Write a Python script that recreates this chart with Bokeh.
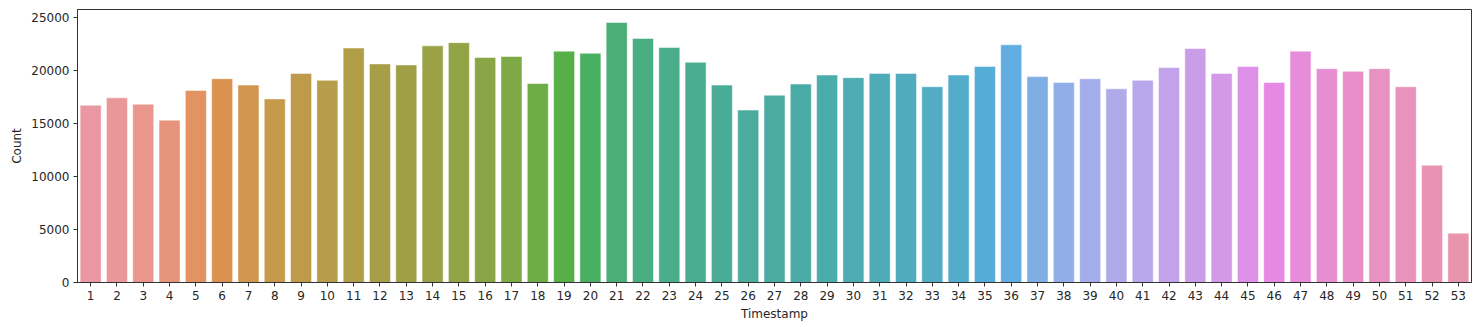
import math
import colorsys
from bokeh.plotting import figure
from bokeh.models import ColumnDataSource, Range1d, FixedTicker
from bokeh.embed import file_html
from bokeh.resources import INLINE

# ---- data ----
timestamps = list(range(1, 54))
counts = [16700, 17400, 16800, 15300, 18100, 19200, 18600, 17300, 19700, 19050,
          22100, 20600, 20500, 22300, 22600, 21200, 21300, 18750, 21800, 21600,
          24500, 23000, 22150, 20750, 18600, 16250, 17650, 18700, 19550, 19300,
          19700, 19700, 18450, 19550, 20350, 22400, 19400, 18850, 19200, 18250,
          19050, 20250, 22050, 19700, 20350, 18850, 21800, 20150, 19900, 20150,
          18450, 11050, 4650]
y_ticks = [0, 5000, 10000, 15000, 20000, 25000]

# ---- husl palette (seaborn style) ----
M = [[3.2406, -1.5372, -0.4986], [-0.9689, 1.8758, 0.0415], [0.0557, -0.2040, 1.0570]]
REF_U, REF_V, LAB_E, LAB_K = 0.19784, 0.46834, 0.008856, 903.3


def max_chroma(L, H):
    hrad = math.radians(H)
    sinH, cosH = math.sin(hrad), math.cos(hrad)
    sub1 = (L + 16) ** 3 / 1560896.0
    sub2 = sub1 if sub1 > LAB_E else L / LAB_K
    result = float("inf")
    for m1, m2, m3 in M:
        top = (0.99915 * m1 + 1.05122 * m2 + 1.14460 * m3) * sub2
        rb = 0.86330 * m3 - 0.17266 * m2
        lb = 0.12949 * m3 - 0.38848 * m1
        bottom = (rb * sinH + lb * cosH) * sub2
        for t in (0.0, 1.0):
            C = L * (top - 1.05122 * t) / (bottom + 0.17266 * sinH * t)
            if 0 < C < result:
                result = C
    return result


def f_inv(t):
    return t ** 3 if t ** 3 > LAB_E else (116 * t - 16) / LAB_K


def from_linear(c):
    return 12.92 * c if c <= 0.0031308 else 1.055 * c ** (1 / 2.4) - 0.055


def husl_to_rgb(H, S, L):
    C = max_chroma(L, H) / 100.0 * S
    hr = math.radians(H)
    U, V = math.cos(hr) * C, math.sin(hr) * C
    varY = f_inv((L + 16) / 116.0)
    varU = U / (13 * L) + REF_U
    varV = V / (13 * L) + REF_V
    Y = varY
    X = -(9 * Y * varU) / ((varU - 4) * varV - varU * varV)
    Z = (9 * Y - 15 * varV * Y - varV * X) / (3 * varV)
    return [min(1, max(0, from_linear(r[0] * X + r[1] * Y + r[2] * Z))) for r in M]


def palette(n, h=0.01, s=0.9, l=0.7, desat=0.75):
    out = []
    for i in range(n):
        hue = ((i / n) + h) % 1 * 359
        r, g, b = husl_to_rgb(hue, s * 99, l * 99)
        hh, ll, ss = colorsys.rgb_to_hls(r, g, b)
        r, g, b = colorsys.hls_to_rgb(hh, ll, ss * desat)
        out.append("#%02x%02x%02x" % (round(r * 255), round(g * 255), round(b * 255)))
    return out


colors = palette(len(timestamps))
source = ColumnDataSource(dict(x=timestamps, top=counts, color=colors))

p = figure(width=1478, height=327, output_backend="svg", toolbar_location=None,
           x_range=Range1d(0.5, len(timestamps) + 0.5),
           y_range=Range1d(0, max(counts) * 1.05),
           min_border_left=77, min_border_right=7, min_border_top=9, min_border_bottom=45)

p.vbar(x="x", top="top", width=0.8, color="color", source=source,
       line_color="white", line_width=0.5)

p.xgrid.visible = False
p.ygrid.visible = False
p.outline_line_color = "#333333"
p.outline_line_width = 1

p.xaxis.ticker = FixedTicker(ticks=timestamps)
p.yaxis.ticker = FixedTicker(ticks=y_ticks)
p.xaxis.axis_label = "Timestamp"
p.yaxis.axis_label = "Count"

for ax in (p.xaxis[0], p.yaxis[0]):
    ax.axis_line_color = "#333333"
    ax.major_tick_line_color = "#333333"
    ax.major_tick_out = 4
    ax.major_tick_in = 0
    ax.minor_tick_line_color = None
    ax.major_label_text_font = "DejaVu Sans"
    ax.major_label_text_font_size = "12px"
    ax.major_label_text_color = "#262626"
    ax.axis_label_text_font = "DejaVu Sans"
    ax.axis_label_text_font_size = "12px"
    ax.axis_label_text_font_style = "normal"
    ax.axis_label_text_color = "#262626"
    ax.major_label_standoff = 4
    ax.axis_label_standoff = 4

p.yaxis.major_label_orientation = "horizontal"
p.yaxis.formatter.use_scientific = False

open("out.html", "w").write(file_html(p, INLINE))
